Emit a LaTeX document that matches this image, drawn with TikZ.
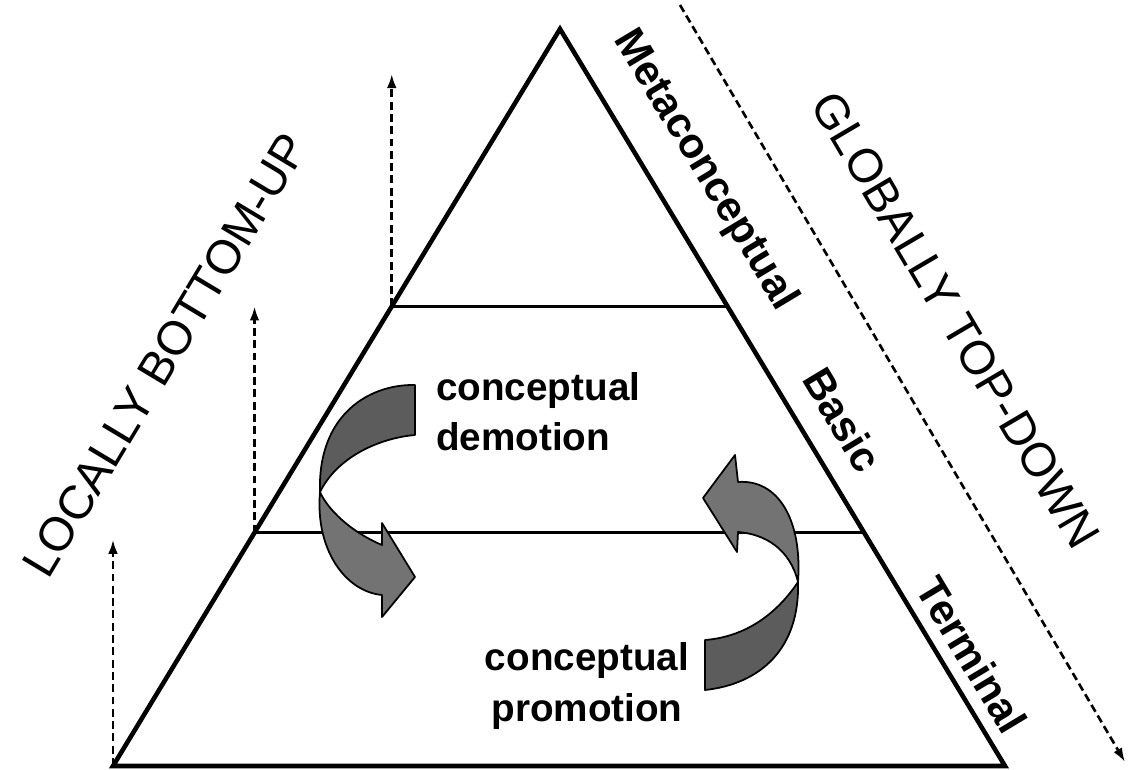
\documentclass[tikz,border=0pt]{standalone}
\usepackage{fontspec}
\setmainfont{Liberation Sans}
\usepackage{tikz}
\usepackage{xcolor}
\usetikzlibrary{arrows.meta, calc, positioning}

\definecolor{ribbonback}{gray}{0.36}
\definecolor{ribbonfront}{gray}{0.45}

\begin{document}
\begin{tikzpicture}[
    edge/.style={line width=2.6pt, line join=miter},
    levelline/.style={line width=1.6pt},
    flow/.style={line width=1.5pt, dash pattern=on 4.5pt off 2.5pt, -{Latex[length=8pt, width=5.5pt]}},
    levellabel/.style={font=\bfseries\fontsize{24}{28}\selectfont, rotate=-59},
    direction/.style={font=\fontsize{27}{30}\selectfont},
    movelabel/.style={font=\bfseries\fontsize{22}{28.5}\selectfont},
    ribbon/.style={draw=black, line width=1pt, line join=round}
]
                    \useasboundingbox (0, 0) rectangle (22.58, 15.38);
                    % pyramid
                    \coordinate (apex) at (11.2, 14.8);
                    \coordinate (bl) at (2.26, 0.06);
                    \coordinate (br) at (20.1, 0.06);
                    \coordinate (lowL) at ($(bl)!0.3166!(apex)$);
                    \coordinate (lowR) at ($(br)!0.3166!(apex)$);
                    \coordinate (upL) at ($(bl)!0.6236!(apex)$);
                    \coordinate (upR) at ($(br)!0.6236!(apex)$);
                    \draw[edge] (bl) -- (apex) -- (br) -- cycle;
                    \draw[levelline] (lowL) -- (lowR);
                    \draw[levelline] (upL) -- (upR);

                    % dashed arrows
                    \draw[flow, shorten >=4pt] (bl) -- (bl |- lowL);
                    \draw[flow] (lowL) -- (lowL |- upL);
                    \draw[flow, shorten >=0.9cm] (upL) -- (upL |- apex);
                    \coordinate (tdStart) at (13.6, 15.28);
                    \coordinate (tdEnd) at (22.5, 0.14);
                    \draw[flow] (tdStart) -- (tdEnd);

                    % labels
                    \node[direction, rotate=59] (bottomup) at (3.3, 8.28) {LOCALLY BOTTOM-UP};
                    \node[direction, rotate=-59.5] (topdown) at (19.12, 8.98) {GLOBALLY TOP-DOWN};
                    \node[levellabel] (meta) at (14.1, 11.98) {Metaconceptual};
                    \node[levellabel] (basic) at (16.86, 6.98) {Basic};
                    \node[levellabel] (terminal) at (19.44, 2.28) {Terminal};
                    \node[movelabel, anchor=west, align=left] (demotion) at (8.6, 7.14) {conceptual\\demotion};
                    \node[movelabel, align=center] (promotion) at (11.74, 1.66) {conceptual\\promotion};

                    % demotion ribbon
                    \draw[ribbon, fill=ribbonback]
                    (8.3, 7.68) .. controls (7.4, 7.7) and (6.35, 7.1) .. (6.4, 5.54)
                    .. controls (6.75, 6.25) and (7.6, 6.62) .. (8.3, 6.68) -- cycle;
                    \draw[ribbon, fill=ribbonfront]
                    (6.4, 5.54) .. controls (6.3, 4.4) and (6.9, 3.55) .. (7.64, 3.48)
                    -- (7.64, 3.04) -- (8.3, 3.84) -- (7.64, 4.92) -- (7.64, 4.48)
                    .. controls (7.0, 4.75) and (6.55, 5.2) .. cycle;

                    % promotion ribbon
                    \draw[ribbon, fill=ribbonback]
                    (14.1, 2.58) -- (14.1, 1.58) .. controls (15.2, 1.7) and (16.0, 2.4) .. (15.96, 3.74)
                    .. controls (15.6, 3.2) and (15.0, 2.65) .. cycle;
                    \draw[ribbon, fill=ribbonfront]
                    (15.96, 3.74) .. controls (16.05, 5.0) and (15.55, 5.8) .. (14.76, 5.74)
                    -- (14.7, 6.28) -- (14.06, 5.42) -- (14.74, 4.34) -- (14.76, 4.74)
                    .. controls (15.3, 4.7) and (15.8, 4.4) .. cycle;
                \end{tikzpicture}
\end{document}
